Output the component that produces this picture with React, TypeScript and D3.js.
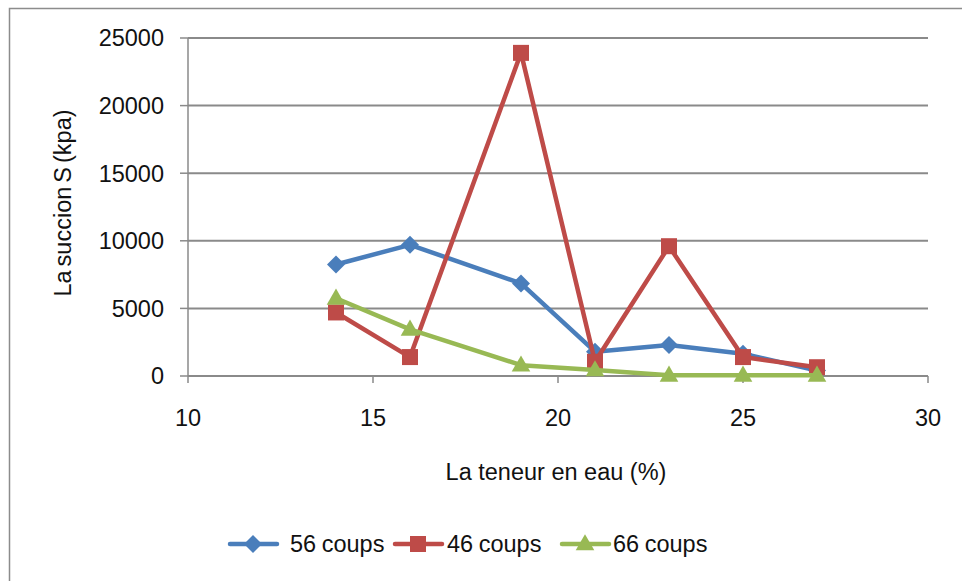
import React from "react";
import * as d3 from "d3";

const xValues = [14, 16, 19, 21, 23, 25, 27];
const coups56 = [8250, 9700, 6850, 1800, 2300, 1650, 400];
const coups46 = [4700, 1400, 23900, 1050, 9600, 1400, 650];
const coups66 = [5750, 3450, 800, 450, 50, 50, 50];
const seriesNames = ["56 coups", "46 coups", "66 coups"];
const seriesColors = ["#4A7EBB", "#BE4B48", "#98B954"];
const yTicks = [0, 5000, 10000, 15000, 20000, 25000];
const xTicks = [10, 15, 20, 25, 30];

const W = 962;
const H = 581;
const FONT = "'Liberation Sans', Arial, sans-serif";
const FS = 23.5;

function Marker({ kind, x, y, color }: { kind: number; x: number; y: number; color: string }) {
  if (kind === 0) {
    const r = 9;
    return <path d={`M${x},${y - r}L${x + r},${y}L${x},${y + r}L${x - r},${y}Z`} fill={color} />;
  }
  if (kind === 1) {
    const s = 16;
    return <rect x={x - s / 2} y={y - s / 2} width={s} height={s} fill={color} />;
  }
  const s = d3.symbol(d3.symbolTriangle, 150)();
  return <path d={s || ""} transform={`translate(${x},${y + 1})`} fill={color} />;
}

export default function App() {
  const x = d3.scaleLinear().domain([10, 30]).range([188, 928]);
  const y = d3.scaleLinear().domain([0, 25000]).range([376, 38]);
  const data = [coups56, coups46, coups66];
  const line = d3
    .line<[number, number]>()
    .x((d) => x(d[0]))
    .y((d) => y(d[1]));

  const legendItems = [
    { lx: 230, tx: 290 },
    { lx: 395, tx: 447 },
    { lx: 562, tx: 613 },
  ];

  return (
    <svg
      width={W}
      height={H}
      style={{ position: "absolute", left: 0, top: 0, background: "#fff" }}
      fontFamily={FONT}
    >
      <rect x={9.5} y={8.5} width={W + 10} height={H + 10} fill="#fff" stroke="#8c8c8c" strokeWidth={1.5} />
      {yTicks.map((t) => (
        <g key={t}>
          {t > 0 && (
            <line x1={x(10)} x2={x(30)} y1={y(t)} y2={y(t)} stroke="#8a8a8a" strokeWidth={2} />
          )}
          <line x1={180} x2={x(10)} y1={y(t)} y2={y(t)} stroke="#8a8a8a" strokeWidth={1.5} />
          <text x={164} y={y(t)} dy="0.36em" textAnchor="end" fontSize={FS} fill="#111">
            {t}
          </text>
        </g>
      ))}
      <line x1={x(10)} x2={x(10)} y1={y(25000)} y2={y(0)} stroke="#8a8a8a" strokeWidth={1.5} />
      <line x1={x(10)} x2={x(30)} y1={y(0)} y2={y(0)} stroke="#8a8a8a" strokeWidth={2} />
      {xTicks.map((t) => (
        <g key={t}>
          <line x1={x(t)} x2={x(t)} y1={y(0)} y2={y(0) + 7} stroke="#8a8a8a" strokeWidth={1.5} />
          <text x={x(t)} y={418} dy="0.36em" textAnchor="middle" fontSize={FS} fill="#111">
            {t}
          </text>
        </g>
      ))}
      <text x={556} y={472} dy="0.36em" textAnchor="middle" fontSize={FS} fill="#111">
        La teneur en eau (%)
      </text>
      <text
        transform={`translate(63,203) rotate(-90)`}
        dy="0.36em"
        textAnchor="middle"
        fontSize={FS}
        wordSpacing={-2.5}
        fill="#111"
      >
        La succion S (kpa)
      </text>
      {data.map((vals, i) => {
        const pts: [number, number][] = xValues.map((xv, j) => [xv, vals[j]]);
        return (
          <g key={i}>
            <path d={line(pts) || ""} fill="none" stroke={seriesColors[i]} strokeWidth={4.5} strokeLinejoin="round" />
            {pts.map((p, j) => (
              <Marker key={j} kind={i} x={x(p[0])} y={y(p[1])} color={seriesColors[i]} />
            ))}
          </g>
        );
      })}
      {legendItems.map((it, i) => (
        <g key={i}>
          <line x1={it.lx} x2={it.lx + 47} y1={544} y2={544} stroke={seriesColors[i]} strokeWidth={4.5} strokeLinecap="round" />
          <Marker kind={i} x={it.lx + 23} y={544} color={seriesColors[i]} />
          <text x={it.tx} y={544} dy="0.36em" fontSize={FS} wordSpacing={-1} fill="#111">
            {seriesNames[i]}
          </text>
        </g>
      ))}
    </svg>
  );
}
